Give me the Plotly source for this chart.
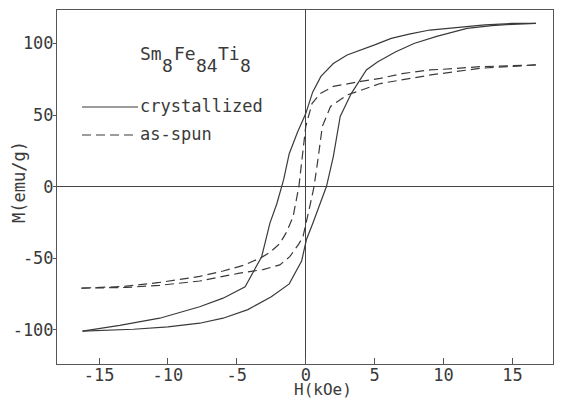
import plotly.graph_objects as go

# ---------------- data ----------------
# crystallized: descending (upper) branch
cryst_down_H = [16.7, 15, 13, 11.7, 10, 9, 7.5, 6.2, 5, 4, 3, 2, 1.1, 0.5, 0,
                -0.6, -1.2, -1.6, -2.1, -2.6, -3.2, -4.4, -6, -7.7, -10.6, -13.5, -16.2]
cryst_down_M = [114, 114, 113, 112, 110.5, 109.4, 106.5, 103.6, 99, 95.5, 92, 86, 77, 66, 51,
                38, 23, 5, -12, -25.5, -49, -70, -78, -84, -92, -97, -101]
# crystallized: ascending (lower) branch
cryst_up_H = [-16.2, -14, -12.5, -10, -7.7, -6, -4.2, -2.5, -1.2, -0.3, 0.05, 0.5, 1.0, 1.5,
              2.0, 2.5, 3.3, 4.4, 5.2, 6.5, 7.85, 9.5, 11.7, 13.5, 15, 16.7]
cryst_up_M = [-101, -100.5, -99.7, -98, -95.5, -92, -86, -77, -68, -52, -37, -26, -13, 0,
              21, 49, 65, 81.5, 87, 94, 100, 105, 110.6, 112.5, 113.4, 114]
# as-spun: descending (upper) branch
spun_down_H = [16.7, 14, 12.7, 10, 9, 7, 5.4, 4, 3, 2, 1.05, 0.45, 0, -0.24, -0.5, -0.92,
               -1.4, -1.9, -2.6, -3.3, -4.5, -6, -7.7, -10.6, -13.2, -16.3]
spun_down_M = [85, 84.3, 83.8, 82, 81.5, 79, 75.6, 73.5, 72, 70, 65, 58, 42, 23, 0, -21,
               -32, -40, -46, -50, -55, -59, -62.8, -67, -69.8, -71]
# as-spun: ascending (lower) branch
spun_up_H = [-16.3, -13, -10.6, -7.7, -4.8, -3.1, -1.88, -1.16, -0.5, -0.2, 0.29, 0.6, 0.9,
             1.2, 1.8, 3, 5.4, 9.06, 12.7, 16.7]
spun_up_M = [-71, -70.5, -69, -66, -60.5, -58, -54.7, -49, -40, -35, -14, 0, 20,
             42, 56, 64, 72, 78, 82.7, 85]

x_ticks = [-15, -10, -5, 0, 5, 10, 15]
x_labels = ["-15", "-10", "-5", "0", "5", "10", "15"]
y_ticks = [-100, -50, 0, 50, 100]
y_labels = ["-100", "-50", "0", "50", "100"]

# formula pieces: (text, is_subscript)
formula = [("Sm", False), ("8", True), ("Fe", False), ("84", True), ("Ti", False), ("8", True)]

# ---------------- style ----------------
INK = "#3a3a3a"
FONT = "DejaVu Sans Mono"
FS = 17

fig = go.Figure()
line_solid = dict(color=INK, width=1.2)
line_dash = dict(color=INK, width=1.2, dash="9px,5px")

fig.add_trace(go.Scatter(x=cryst_down_H, y=cryst_down_M, mode="lines", line=line_solid,
                         showlegend=False))
fig.add_trace(go.Scatter(x=cryst_up_H, y=cryst_up_M, mode="lines", line=line_solid,
                         showlegend=False))
fig.add_trace(go.Scatter(x=spun_down_H, y=spun_down_M, mode="lines", line=line_dash,
                         showlegend=False))
fig.add_trace(go.Scatter(x=spun_up_H, y=spun_up_M, mode="lines", line=line_dash,
                         showlegend=False))

OFF = 8  # page body margin
L, R, T, B = 49, 1, 2, 34
W, H = 546, 390
pw, ph = W - L - R, H - T - B


def px(x):  # page pixel -> paper
    return (x - OFF - L) / pw


def py(y):
    return (H - B - (y - OFF)) / ph


# legend keys
fig.add_shape(type="line", xref="paper", yref="paper", x0=px(82), x1=px(138),
              y0=py(107), y1=py(107), line=dict(color=INK, width=1.2))
fig.add_shape(type="line", xref="paper", yref="paper", x0=px(82), x1=px(138),
              y0=py(135), y1=py(135), line=dict(color=INK, width=1.2, dash="9px,5px"))

tfont = dict(family=FONT, size=FS, color=INK)
fig.add_annotation(text="crystallized", xref="paper", yref="paper", x=px(138), y=py(106),
                   xanchor="left", yanchor="middle", showarrow=False, font=tfont)
fig.add_annotation(text="as-spun", xref="paper", yref="paper", x=px(138), y=py(134),
                   xanchor="left", yanchor="middle", showarrow=False, font=tfont)

# formula Sm8Fe84Ti8 with full-size, dropped subscripts
cx = 138
char_w = 0.602 * 18
for txt, is_sub in formula:
    fig.add_annotation(text=txt, xref="paper", yref="paper", x=px(cx),
                       y=py(66 if is_sub else 54), xanchor="left", yanchor="middle",
                       showarrow=False, font=dict(family=FONT, size=18, color=INK))
    cx += len(txt) * char_w + 0.5

# axis titles
fig.add_annotation(text="H(kOe)", xref="paper", yref="paper", x=px(323), y=py(389),
                   xanchor="center", yanchor="middle", showarrow=False, borderpad=0,
                   font=dict(family=FONT, size=16, color=INK))
fig.add_annotation(text="M(emu/g)", xref="paper", yref="paper", x=px(19), y=py(182),
                   xanchor="center", yanchor="middle", showarrow=False, textangle=-90,
                   font=dict(family=FONT, size=17, color=INK))

axis_common = dict(showline=True, mirror=True, linecolor="#555", linewidth=1,
                   showgrid=False, zeroline=True, zerolinecolor="#444", zerolinewidth=1,
                   tickfont=dict(family=FONT, size=FS, color=INK), tickcolor="#555")

fig.update_xaxes(range=[-18.05, 17.94], tickvals=x_ticks, ticktext=x_labels,
                 ticks="inside", ticklen=6, ticklabelstandoff=-4, **axis_common)
fig.update_yaxes(range=[-124, 123.4], tickvals=y_ticks, ticktext=y_labels,
                 ticks="outside", ticklen=3, ticklabelstandoff=-4, **axis_common)

fig.update_layout(width=W, height=H, autosize=False,
                  margin=dict(l=L, r=R, t=T, b=B, pad=0),
                  plot_bgcolor="white", paper_bgcolor="white")

fig.write_html("out.html")
